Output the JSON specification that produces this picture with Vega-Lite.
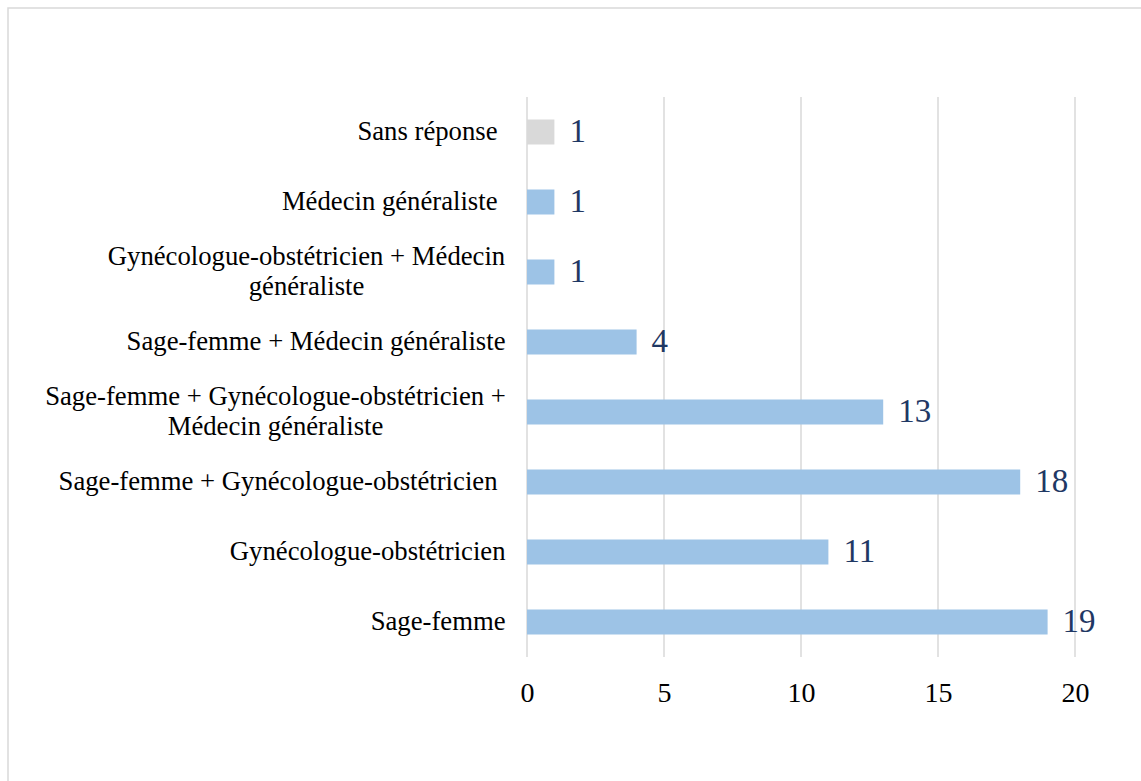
{
  "$schema": "https://vega.github.io/schema/vega-lite/v6.json",
  "autosize": {"type": "none"},
  "padding": {"left": 8, "top": 8, "right": -2, "bottom": -2},
  "width": 1135,
  "height": 775,
  "background": "white",
  "config": {
    "view": {"stroke": "#d9d9d9", "strokeWidth": 1.5},
    "font": "Liberation Serif"
  },
  "datasets": {
    "reponses": [
      {"categorie": "Sans réponse", "nombre": 1},
      {"categorie": "Médecin généraliste", "nombre": 1},
      {"categorie": "Gynécologue-obstétricien + Médecin\ngénéraliste", "nombre": 1},
      {"categorie": "Sage-femme + Médecin généraliste", "nombre": 4},
      {"categorie": "Sage-femme + Gynécologue-obstétricien +\nMédecin généraliste", "nombre": 13},
      {"categorie": "Sage-femme + Gynécologue-obstétricien", "nombre": 18},
      {"categorie": "Gynécologue-obstétricien", "nombre": 11},
      {"categorie": "Sage-femme", "nombre": 19}
    ],
    "graduations": [
      {"graduation": 0},
      {"graduation": 5},
      {"graduation": 10},
      {"graduation": 15},
      {"graduation": 20}
    ]
  },
  "resolve": {"scale": {"y": "independent"}, "axis": {"y": "independent"}},
  "layer": [
    {
      "data": {"name": "graduations"},
      "mark": {"type": "rule", "color": "#d9d9d9", "strokeWidth": 1.5},
      "encoding": {
        "x": {
          "field": "graduation",
          "type": "quantitative",
          "scale": {"domain": [0, 20], "range": [519, 1067], "nice": false},
          "axis": {
            "title": null,
            "domain": false,
            "ticks": false,
            "grid": false,
            "values": [0, 5, 10, 15, 20],
            "format": "d",
            "offset": -126,
            "labelFont": "Liberation Serif",
            "labelFontSize": 28,
            "labelColor": "#000000",
            "labelPadding": 22,
            "labelFlush": false
          }
        },
        "y": {"datum": 0, "type": "quantitative", "scale": {"domain": [0, 1], "range": [89, 649]}, "axis": null},
        "y2": {"datum": 1}
      }
    },
    {
      "data": {"name": "reponses"},
      "encoding": {
        "y": {
          "field": "categorie",
          "type": "nominal",
          "sort": null,
          "scale": {"range": [89, 649], "paddingInner": 0.643, "paddingOuter": 0.3215},
          "axis": {
            "title": null,
            "domain": false,
            "ticks": false,
            "grid": false,
            "offset": -519,
            "labelFont": "Liberation Serif",
            "labelFontSize": 26.7,
            "labelColor": "#000000",
            "labelLimit": 1000,
            "labelLineHeight": 30,
            "labelExpr": "split(datum.label, '\\n')",
            "labelAlign": {
              "condition": {"test": "indexof(datum.value, '\\n') >= 0", "value": "center"},
              "value": "right"
            },
            "labelOffset": {
              "condition": {"test": "indexof(datum.value, '\\n') >= 0", "value": -15},
              "value": 0
            },
            "labelPadding": {
              "condition": [
                {"test": "datum.value === 'Gynécologue-obstétricien + Médecin\\ngénéraliste'", "value": 221},
                {"test": "datum.value === 'Sage-femme + Gynécologue-obstétricien +\\nMédecin généraliste'", "value": 252},
                {"test": "datum.value === 'Sans réponse' || datum.value === 'Médecin généraliste' || datum.value === 'Sage-femme + Gynécologue-obstétricien'", "value": 30}
              ],
              "value": 22
            }
          }
        },
        "x": {"field": "nombre", "type": "quantitative"}
      },
      "layer": [
        {
          "mark": {"type": "bar"},
          "encoding": {
            "color": {
              "condition": {"test": "datum.categorie === 'Sans réponse'", "value": "#d9d9d9"},
              "value": "#9dc3e6"
            }
          }
        },
        {
          "mark": {"type": "text", "align": "left", "baseline": "middle", "dx": 15, "font": "Liberation Serif", "fontSize": 33, "color": "#1f3864"},
          "encoding": {
            "text": {"field": "nombre", "type": "quantitative"}
          }
        }
      ]
    }
  ]
}
